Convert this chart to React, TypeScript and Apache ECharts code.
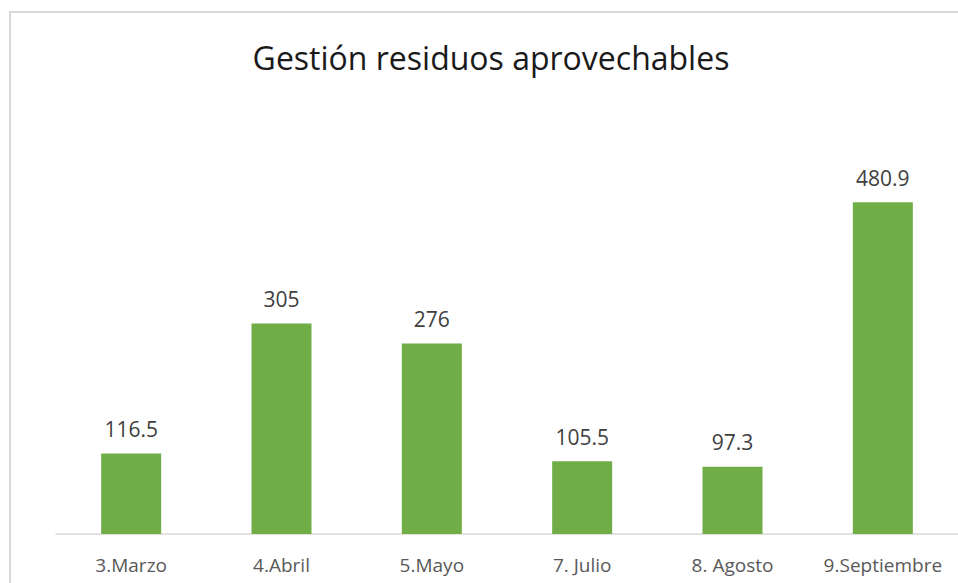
import React, { useEffect, useRef } from "react";
import * as echarts from "echarts";

const categories = ["3.Marzo", "4.Abril", "5.Mayo", "7. Julio", "8. Agosto", "9.Septiembre"];
const values = [116.5, 305, 276, 105.5, 97.3, 480.9];
const title = "Gestión residuos aprovechables";

export default function App() {
  const ref = useRef<HTMLDivElement>(null);
  useEffect(() => {
    const chart = echarts.init(ref.current!, null, { renderer: "svg" });
    chart.setOption({
      animation: false,
      backgroundColor: "#ffffff",
      title: {
        text: title,
        left: 486,
        textAlign: "center",
        top: 36,
        textStyle: { fontFamily: "Open Sans", fontSize: 32, fontWeight: "normal", color: "#1a1a1a" },
      },
      graphic: [
        {
          type: "rect",
          shape: { x: 10, y: 12, width: 1000, height: 700 },
          style: { fill: "none", stroke: "#d9d9d9", lineWidth: 2 },
          silent: true,
        },
      ],
      grid: { left: 56, width: 904, top: 120, bottom: 49 },
      xAxis: {
        type: "category",
        data: categories,
        axisLine: { lineStyle: { color: "#d9d9d9", width: 1.5 } },
        axisTick: { show: false },
        axisLabel: { color: "#595959", fontFamily: "Open Sans", fontSize: 19, margin: 21, interval: 0 },
      },
      yAxis: {
        type: "value",
        min: 0,
        max: 600,
        show: false,
        splitLine: { show: false },
      },
      series: [
        {
          type: "bar",
          data: values,
          barWidth: 60,
          itemStyle: { color: "#70ad47" },
          label: {
            show: true,
            position: "top",
            distance: 14,
            color: "#404040",
            fontFamily: "Open Sans",
            fontSize: 21,
          },
        },
      ],
    });
    return () => chart.dispose();
  }, []);
  return <div ref={ref} style={{ position: "fixed", left: 0, top: 0, width: 958, height: 583 }} />;
}
